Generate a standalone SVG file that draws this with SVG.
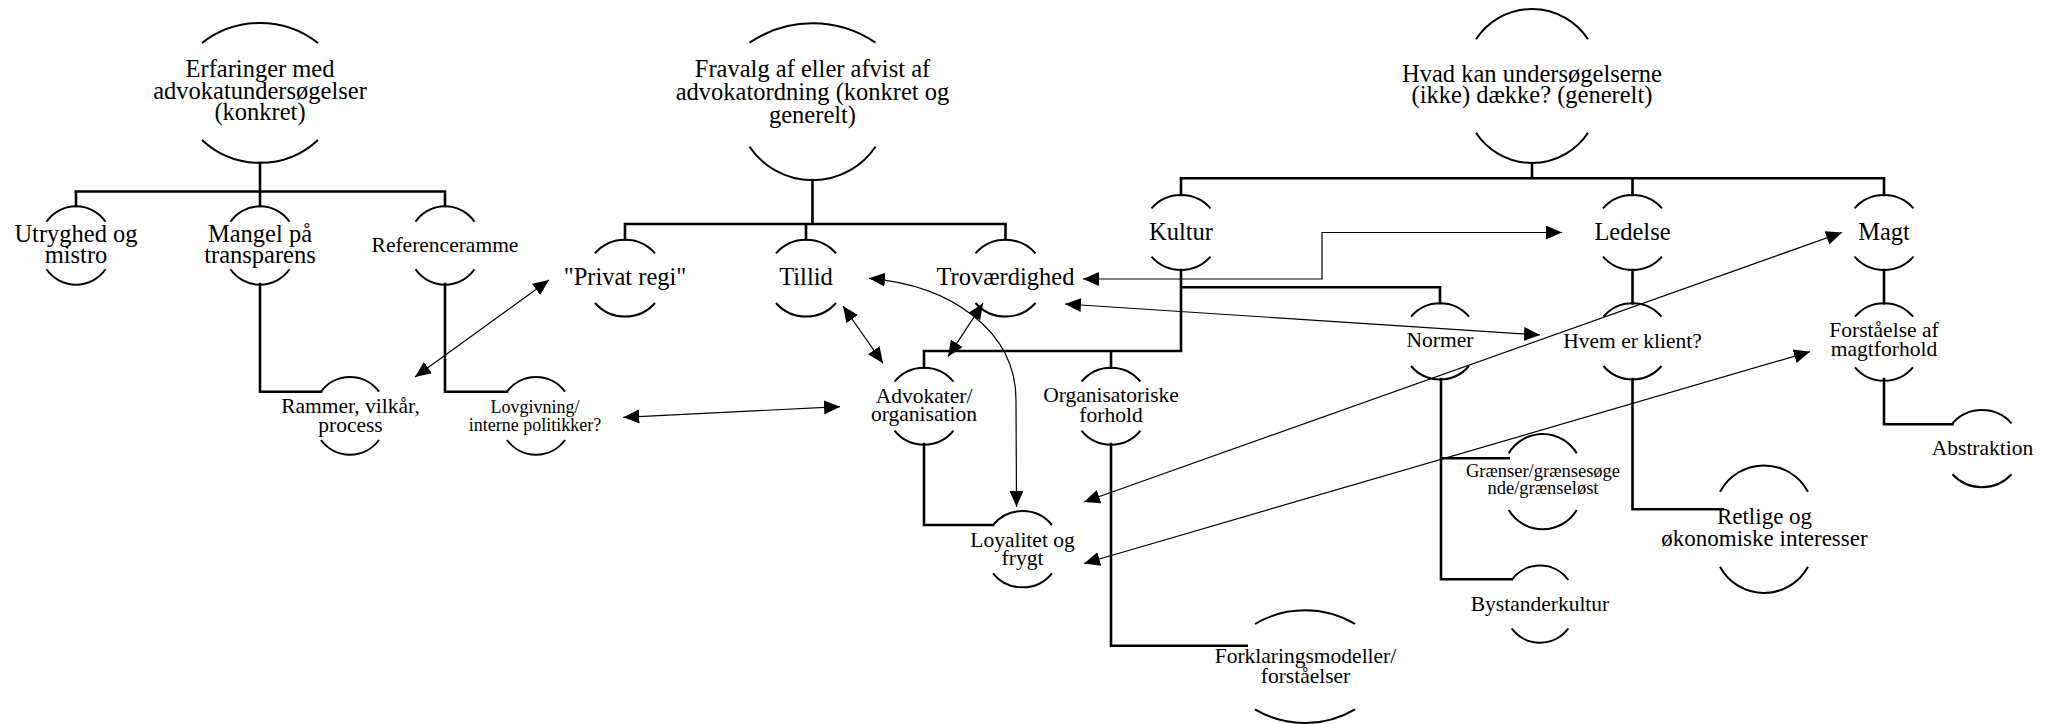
<svg xmlns="http://www.w3.org/2000/svg" width="2053" height="724" viewBox="0 0 2053 724" font-family="'Liberation Serif', 'Times New Roman', 'DejaVu Serif', serif">
<style>
.arc{fill:none;stroke:#000;stroke-width:2}
.tree{fill:none;stroke:#000;stroke-width:2.6;stroke-linejoin:miter;stroke-linecap:square}
.arr{fill:none;stroke:#000;stroke-width:1.2;marker-start:url(#ah);marker-end:url(#ah)}
text{font-family:'Liberation Serif','Times New Roman','DejaVu Serif',serif;fill:#000;text-anchor:middle}
.f24{font-size:24.5px}.f23{font-size:23px}.f21{font-size:21.5px}.f18{font-size:18px}.f185{font-size:18.5px}
</style>
<defs>
<marker id="ah" markerUnits="userSpaceOnUse" markerWidth="17" markerHeight="15" refX="16" refY="7" orient="auto-start-reverse" viewBox="0 0 17 15">
<path d="M0,0 L16,7 L0,14 Z" fill="#000"/>
</marker>
</defs>
<rect width="2053" height="724" fill="#fff"/>

<g id="connectors">
<path class="tree" d="M260,163 V191.5 M75.7,191.5 H445 M76,191.5 V206 M260,191.5 V206 M445,191.5 V206"/>
<path class="tree" d="M260,284 V391.7 H321"/>
<path class="tree" d="M445,284 V391.7 H507"/>
<path class="tree" d="M812.5,180 V224 M625,224 H1005.5 M625,224 V239.3 M806,224 V239.3 M1005.5,224 V239.3"/>
<path class="tree" d="M1532,163.3 V178.3 M1181,178.3 H1884 M1181,178.3 V195 M1632.5,178.3 V195 M1884,178.3 V195"/>
<path class="tree" d="M1181,270 V351 H924 V367.7 M1111,351 V367.7 M1181,287.3 H1440 V303.3"/>
<path class="tree" d="M924,444 V525 H993"/>
<path class="tree" d="M1111,444 V645.7 H1246.7"/>
<path class="tree" d="M1441,379 V579.3 H1511.7 M1441,458.3 H1508.7"/>
<path class="tree" d="M1632.5,270 V303.3"/>
<path class="tree" d="M1632.5,379 V509.3 H1723"/>
<path class="tree" d="M1884,270 V303.3"/>
<path class="tree" d="M1884,379 V424.3 H1952.5"/>

<path class="arr" d="M415,377 L549,280"/>
<path class="arr" d="M623.3,417.3 L840,406.7"/>
<path class="arr" d="M843,306 L883,363.3"/>
<path class="arr" d="M983,303.3 L948,356.7"/>
<path class="arr" d="M869,278.3 C950,285 1016,330 1016,400 L1016.5,506.7"/>
<path class="arr" d="M1083,279 H1322 V232.5 H1562"/>
<path class="arr" d="M1065,304 L1540,335"/>
<path class="arr" d="M1084,502 L1842,232.5"/>
<path class="arr" d="M1084,563.5 L1810,351.7"/>
</g>

<g id="root1">
<path class="arc" d="M202,43 A94,94 0 0 1 318,43 M202,140 A85,85 0 0 0 318,140"/>
<text class="f24" x="260" y="77">Erfaringer med</text>
<text class="f24" x="260" y="98.5">advokatundersøgelser</text>
<text class="f24" x="260" y="120">(konkret)</text>
</g>
<g id="utryghed">
<path class="arc" d="M46.5,221.7 A36,36 0 0 1 105.5,221.7 M46.5,269.3 A36,36 0 0 0 105.5,269.3"/>
<text class="f24" x="76" y="241.5">Utryghed og</text>
<text class="f24" x="76" y="262.5">mistro</text>
</g>
<g id="mangel">
<path class="arc" d="M230.5,221.7 A36,36 0 0 1 289.5,221.7 M230.5,269.3 A36,36 0 0 0 289.5,269.3"/>
<text class="f24" x="260" y="241.5">Mangel på</text>
<text class="f24" x="260" y="262.5">transparens</text>
</g>
<g id="referenceramme">
<path class="arc" d="M415.5,221.7 A36,36 0 0 1 474.5,221.7 M415.5,269.3 A36,36 0 0 0 474.5,269.3"/>
<text class="f21" x="445" y="251.5">Referenceramme</text>
</g>
<g id="rammer">
<path class="arc" d="M321,391.7 A36,36 0 0 1 379,391.7 M321,440 A36,36 0 0 0 379,440"/>
<text class="f21" x="350.5" y="413">Rammer, vilkår,</text>
<text class="f21" x="350.5" y="431.7">process</text>
</g>
<g id="lovgivning">
<path class="arc" d="M507,391.7 A36,36 0 0 1 565,391.7 M507,440 A36,36 0 0 0 565,440"/>
<text class="f18" x="535" y="413">Lovgivning/</text>
<text class="f18" x="535" y="430.7">interne politikker?</text>
</g>

<g id="root2">
<path class="arc" d="M749.5,42.7 A112,112 0 0 1 875.5,42.7 M749.5,146.7 A76,76 0 0 0 875.5,146.7"/>
<text class="f24" x="812.5" y="77">Fravalg af eller afvist af</text>
<text class="f24" x="812.5" y="100">advokatordning (konkret og</text>
<text class="f24" x="812.5" y="123">generelt)</text>
</g>
<g id="privat">
<path class="arc" d="M595,253.3 A40,40 0 0 1 655,253.3 M595,303 A40,40 0 0 0 655,303"/>
<text class="f24" x="625" y="285">"Privat regi"</text>
</g>
<g id="tillid">
<path class="arc" d="M776,253.3 A40,40 0 0 1 836,253.3 M776,303 A40,40 0 0 0 836,303"/>
<text class="f24" x="806" y="285">Tillid</text>
</g>
<g id="trovaerdighed">
<path class="arc" d="M975.5,253.3 A40,40 0 0 1 1035.5,253.3 M975.5,303 A40,40 0 0 0 1035.5,303"/>
<text class="f24" x="1005.5" y="285">Troværdighed</text>
</g>
<g id="advokater">
<path class="arc" d="M894.5,381.7 A38,38 0 0 1 953.5,381.7 M894.5,430.7 A38,38 0 0 0 953.5,430.7"/>
<text class="f21" x="924" y="402.7">Advokater/</text>
<text class="f21" x="924" y="420.5">organisation</text>
</g>
<g id="organisatoriske">
<path class="arc" d="M1081.5,381.7 A38,38 0 0 1 1140.5,381.7 M1081.5,430.7 A38,38 0 0 0 1140.5,430.7"/>
<text class="f21" x="1111" y="402">Organisatoriske</text>
<text class="f21" x="1111" y="421.5">forhold</text>
</g>
<g id="loyalitet">
<path class="arc" d="M993,525 A38,38 0 0 1 1052,525 M993,573.3 A38,38 0 0 0 1052,573.3"/>
<text class="f21" x="1022.5" y="546.7">Loyalitet og</text>
<text class="f21" x="1022.5" y="565">frygt</text>
</g>
<g id="forklaringsmodeller">
<path class="arc" d="M1255,624 A98,98 0 0 1 1355,624 M1255,709.3 A98,98 0 0 0 1355,709.3"/>
<text class="f21" x="1305.5" y="663.3">Forklaringsmodeller/</text>
<text class="f21" x="1305.5" y="682.7">forståelser</text>
</g>

<g id="root3">
<path class="arc" d="M1476,39.3 A67,67 0 0 1 1588,39.3 M1476,132.7 A67,67 0 0 0 1588,132.7"/>
<text class="f24" x="1532" y="81.5">Hvad kan undersøgelserne</text>
<text class="f24" x="1532" y="103.3">(ikke) dække? (generelt)</text>
</g>
<g id="kultur">
<path class="arc" d="M1151.5,208.3 A39.4,39.4 0 0 1 1210.5,208.3 M1151.5,256.7 A39.4,39.4 0 0 0 1210.5,256.7"/>
<text class="f24" x="1181" y="240">Kultur</text>
</g>
<g id="ledelse">
<path class="arc" d="M1603,208.3 A39.4,39.4 0 0 1 1662,208.3 M1603,256.7 A39.4,39.4 0 0 0 1662,256.7"/>
<text class="f24" x="1632.5" y="240">Ledelse</text>
</g>
<g id="magt">
<path class="arc" d="M1854.5,208.3 A39.4,39.4 0 0 1 1913.5,208.3 M1854.5,256.7 A39.4,39.4 0 0 0 1913.5,256.7"/>
<text class="f24" x="1884" y="240">Magt</text>
</g>
<g id="normer">
<path class="arc" d="M1411,316.7 A38,38 0 0 1 1469,316.7 M1411,366 A38,38 0 0 0 1469,366"/>
<text class="f21" x="1440" y="347">Normer</text>
</g>
<g id="hvem">
<path class="arc" d="M1603.5,316.7 A38,38 0 0 1 1661.5,316.7 M1603.5,366 A38,38 0 0 0 1661.5,366"/>
<text class="f21" x="1632.5" y="347.5">Hvem er klient?</text>
</g>
<g id="forstaaelse">
<path class="arc" d="M1855,316.7 A38,38 0 0 1 1913,316.7 M1855,367.3 A38,38 0 0 0 1913,367.3"/>
<text class="f21" x="1884" y="337.3">Forståelse af</text>
<text class="f21" x="1884" y="356">magtforhold</text>
</g>
<g id="graenser">
<path class="arc" d="M1508.7,453.3 A39.6,39.6 0 0 1 1576.7,453.3 M1508.7,510 A39.6,39.6 0 0 0 1576.7,510"/>
<text class="f185" x="1543" y="476.7">Grænser/grænsesøge</text>
<text class="f185" x="1543" y="494.3">nde/grænseløst</text>
</g>
<g id="bystanderkultur">
<path class="arc" d="M1511.7,580 A35,35 0 0 1 1568.3,580 M1511.7,628.3 A35,35 0 0 0 1568.3,628.3"/>
<text class="f21" x="1540" y="610.7">Bystanderkultur</text>
</g>
<g id="retlige">
<path class="arc" d="M1720,491.7 A50,50 0 0 1 1808,491.7 M1720,566.7 A50,50 0 0 0 1808,566.7"/>
<text class="f23" x="1764.5" y="524">Retlige og</text>
<text class="f23" x="1764.5" y="545.7">økonomiske interesser</text>
</g>
<g id="abstraktion">
<path class="arc" d="M1952.5,423.3 A39.4,39.4 0 0 1 2011.5,423.3 M1952.5,474.3 A40,40 0 0 0 2011.5,474.3"/>
<text class="f21" x="1982.5" y="455">Abstraktion</text>
</g>
</svg>
